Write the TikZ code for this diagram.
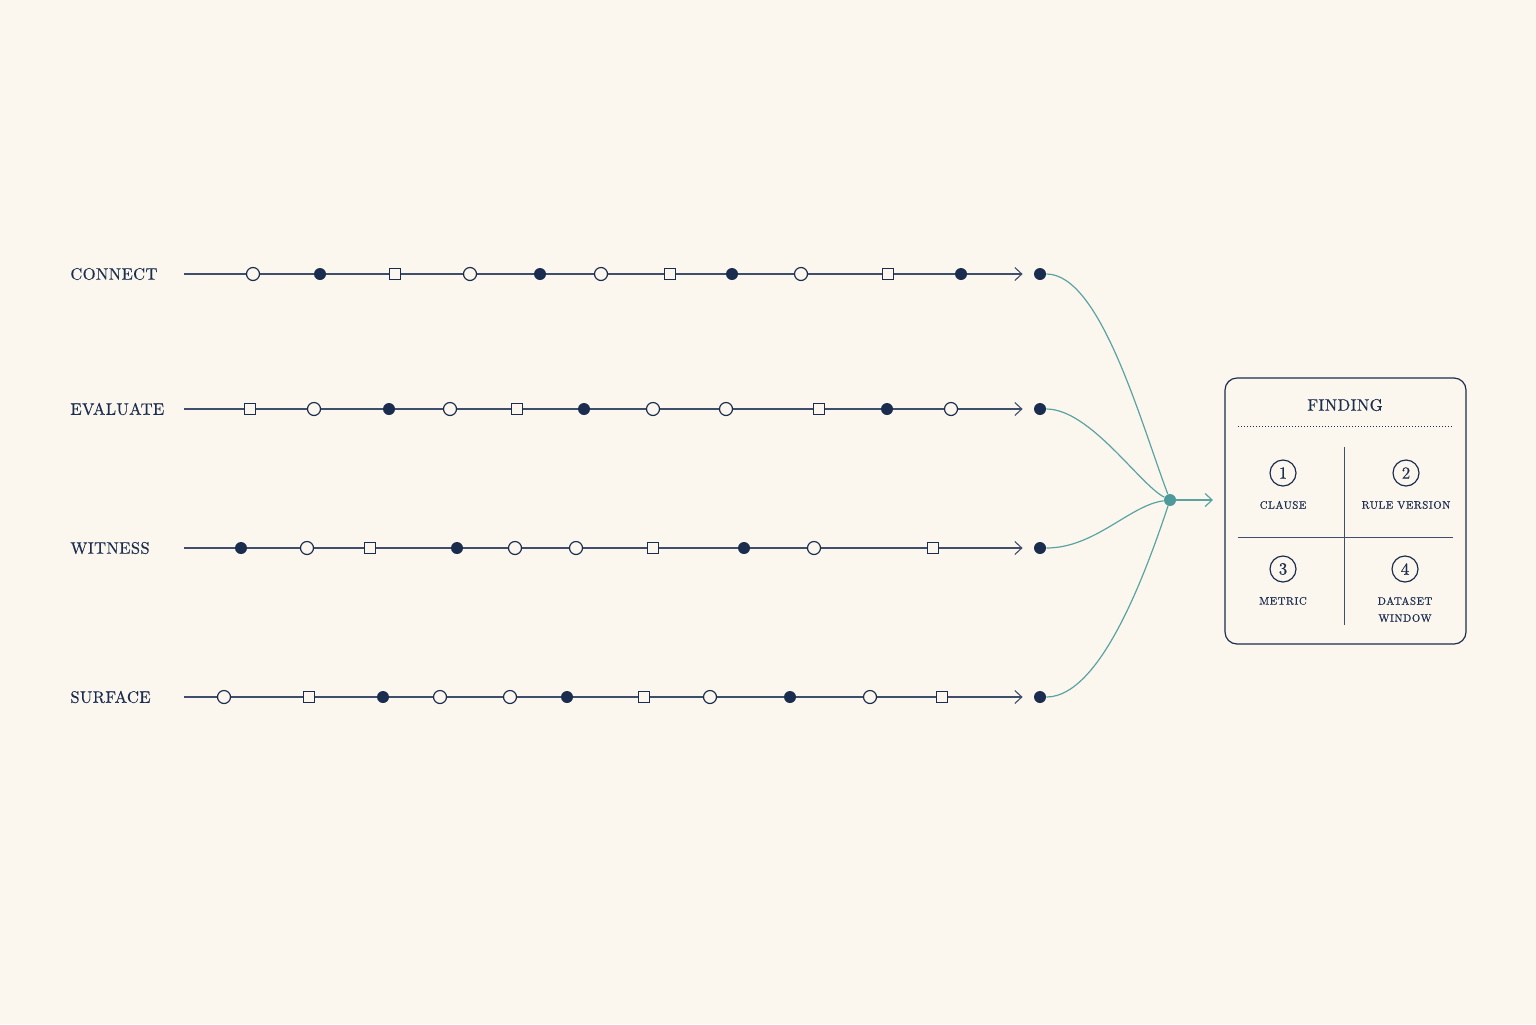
\documentclass[tikz,border=0pt]{standalone}
\usepackage{fontspec}
\usetikzlibrary{positioning,arrows.meta}

\definecolor{papel}{HTML}{FBF7EE}
\definecolor{tinta}{HTML}{1B2D4F}
\definecolor{linea}{HTML}{3F4F6B}
\definecolor{verde}{HTML}{5BA3A3}
\definecolor{nudo}{HTML}{4E9999}

\newfontfamily\etiqueta[LetterSpace=2, FakeBold=0.3]{lmroman10-regular.otf}
\newfontfamily\rotulo[LetterSpace=5, FakeBold=0.6]{lmroman10-regular.otf}
\newfontfamily\cifra[FakeBold=0.3]{lmroman10-regular.otf}

\tikzset{
  hollowdot/.style={circle, draw=tinta, fill=papel, line width=0.6pt, minimum size=6.5pt, inner sep=0pt},
  filldot/.style={circle, fill=tinta, minimum size=6pt, inner sep=0pt},
  squaremark/.style={rectangle, draw=tinta, fill=papel, line width=0.6pt, minimum size=5.8pt, inner sep=0pt},
  stagelabel/.style={anchor=west, inner sep=0pt, text=tinta, font=\etiqueta\fontsize{8.3}{10}\selectfont},
  track/.style={draw=linea, line width=0.55pt, ->},
  feed/.style={draw=verde, line width=0.6pt},
  numbered/.style={circle, draw=tinta, line width=0.6pt, minimum size=13pt, inner sep=0pt, text=tinta, font=\cifra\fontsize{8.5}{10}\selectfont},
  fieldlabel/.style={inner sep=0pt, text=tinta, align=center, font=\rotulo\fontsize{5.4}{8.5}\selectfont},
}

\begin{document}
\begin{tikzpicture}[x=0.5pt, y=-0.5pt, >={Straight Barb[length=3.5pt, width=6.5pt]}]

% Fondo
\fill[papel] (0,0) rectangle (1536,1024);

% Fila CONNECT
\node[stagelabel] (connect) at (70,274) {CONNECT};
\coordinate (connect-in) at (184,274);
\node[filldot] (connect-end) at (1040,274) {};
\draw[track, shorten >=5.5pt] (connect-in) -- (connect-end);
\foreach \x/\m [count=\i] in {253/hollowdot, 320/filldot, 395/squaremark, 470/hollowdot, 540/filldot, 601/hollowdot,
    670/squaremark, 732/filldot, 801/hollowdot, 888/squaremark, 961/filldot}
  \node[\m] (connect-\i) at (\x,274) {};

% Fila EVALUATE
\node[stagelabel] (evaluate) at (70,409) {EVALUATE};
\coordinate (evaluate-in) at (184,409);
\node[filldot] (evaluate-end) at (1040,409) {};
\draw[track, shorten >=5.5pt] (evaluate-in) -- (evaluate-end);
\foreach \x/\m [count=\i] in {250/squaremark, 314/hollowdot, 389/filldot, 450/hollowdot, 517/squaremark, 584/filldot,
    653/hollowdot, 726/hollowdot, 819/squaremark, 887/filldot, 951/hollowdot}
  \node[\m] (evaluate-\i) at (\x,409) {};

% Fila WITNESS
\node[stagelabel] (witness) at (70,548) {WITNESS};
\coordinate (witness-in) at (184,548);
\node[filldot] (witness-end) at (1040,548) {};
\draw[track, shorten >=5.5pt] (witness-in) -- (witness-end);
\foreach \x/\m [count=\i] in {241/filldot, 307/hollowdot, 370/squaremark, 457/filldot, 515/hollowdot, 576/hollowdot,
    653/squaremark, 744/filldot, 814/hollowdot, 933/squaremark}
  \node[\m] (witness-\i) at (\x,548) {};

% Fila SURFACE
\node[stagelabel] (surface) at (70,697) {SURFACE};
\coordinate (surface-in) at (184,697);
\node[filldot] (surface-end) at (1040,697) {};
\draw[track, shorten >=5.5pt] (surface-in) -- (surface-end);
\foreach \x/\m [count=\i] in {224/hollowdot, 309/squaremark, 383/filldot, 440/hollowdot, 510/hollowdot, 567/filldot,
    644/squaremark, 710/hollowdot, 790/filldot, 870/hollowdot, 942/squaremark}
  \node[\m] (surface-\i) at (\x,697) {};

% Convergencia
\node[circle, fill=nudo, minimum size=6pt, inner sep=0pt] (merge) at (1170,500) {};
\draw[feed] (connect-end) .. controls (1100,274) and (1140,420) .. (merge);
\draw[feed] (evaluate-end) .. controls (1090,409) and (1140,485) .. (merge);
\draw[feed] (witness-end) .. controls (1095,548) and (1130,505) .. (merge);
\draw[feed] (surface-end) .. controls (1100,697) and (1145,575) .. (merge);
\coordinate (tip) at (1213,500);
\draw[feed, ->] (merge) -- (tip);

% Caja FINDING
\node[draw=tinta, line width=0.6pt, rounded corners=6pt, minimum width=120.5pt, minimum height=133pt, inner sep=0pt] (finding) at (1345.5,511) {};
\node[stagelabel, anchor=center] (title) at (1345,405) {FINDING};
\draw[tinta, line width=0.5pt, dash pattern=on 0.5pt off 1pt] (1238,426) -- (1453,426);
\draw[linea, line width=0.5pt] (1344,447) -- (1344,625);
\draw[linea, line width=0.5pt] (1238,537) -- (1453,537);

% Campos
\node[numbered] (n1) at (1283,473) {1};
\node[fieldlabel, below=7pt of n1] (clause) {CLAUSE};
\node[numbered] (n2) at (1406,473) {2};
\node[fieldlabel, below=7pt of n2] (rule) {RULE VERSION};
\node[numbered] (n3) at (1283,569) {3};
\node[fieldlabel, below=7pt of n3] (metric) {METRIC};
\node[numbered] (n4) at (1405,569) {4};
\node[fieldlabel, below=7pt of n4] (window) {DATASET\\WINDOW};

\end{tikzpicture}
\end{document}
